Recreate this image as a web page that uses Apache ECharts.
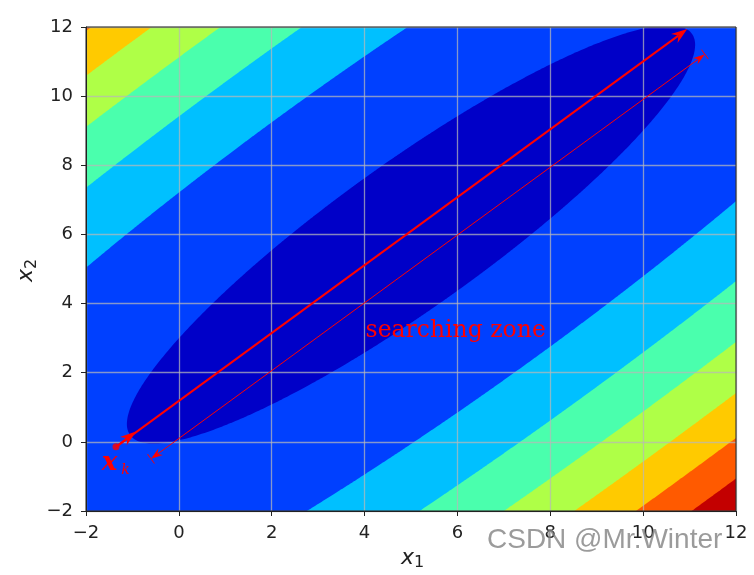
<!DOCTYPE html>
<html>
<head>
<meta charset="utf-8">
<script src="https://cdn.jsdelivr.net/npm/echarts@6/dist/echarts.min.js"></script>
<style>html,body{margin:0;padding:0;background:#fff}#chart{width:754px;height:575px}</style>
</head>
<body>
<div id="chart"></div>
<script>
// ---- axes ----
const xRange = [-2, 12];
const yRange = [-2, 12];
const tickStep = 2;

// ---- quadratic objective: q(x) = (x-centre)^T [[a,b],[b,c]] (x-centre) ----
const centre = [5, 6];
const quadCoef = [1.0, -0.9165, 1.023];          // a, b, c
// contour boundaries (values of q) read from the band edges
const levels = [6.7, 37.6, 68.2, 98.8, 129.4, 160.0, 190.6];
// filled band colours, lowest band first (jet)
const bandColors = ['#0000c8', '#0040ff', '#00c0ff', '#4affad', '#afff47', '#ffca00', '#ff5a00', '#c30000'];

// ---- annotations ----
const xk = [-1.354, -0.145];
const stepArrow = [-1.354, -0.145, -0.923, 0.300];     // small arrow from x_k
const searchArrow = [-1.354, -0.145, 10.95, 11.94];    // long search direction
const zoneSpan = [-0.60, -0.49, 11.33, 11.21];         // |<->| searching zone
const zoneLabelPos = [4.0, 3.0];
const zoneLabelText = 'searching zone';
const xkLabelPos = [-1.64, -0.83];

const chart = echarts.init(document.getElementById('chart'), null, {renderer: 'canvas'});

function renderContour(params, api) {
  const p0 = api.coord([xRange[0], yRange[0]]);
  const p1 = api.coord([xRange[1], yRange[1]]);
  const box = {x: p0[0], y: p1[1], width: p1[0] - p0[0], height: p0[1] - p1[1]};
  const a = quadCoef[0], b = quadCoef[1], c = quadCoef[2];
  const children = [{type: 'rect', shape: box, style: {fill: bandColors[bandColors.length - 1]}}];
  const N = 1440;
  for (let k = levels.length - 1; k >= 0; k--) {
    const pts = [];
    for (let i = 0; i < N; i++) {
      const t = 2 * Math.PI * i / N;
      const ux = Math.cos(t), uy = Math.sin(t);
      const q = a * ux * ux + 2 * b * ux * uy + c * uy * uy;
      const r = Math.sqrt(levels[k] / q);
      pts.push(api.coord([centre[0] + r * ux, centre[1] + r * uy]));
    }
    children.push({type: 'polygon', shape: {points: pts}, style: {fill: bandColors[k]}});
  }
  return {type: 'group', children: children, clipPath: {type: 'rect', shape: box}};
}

function headPts(tip, dir, len, half, notch) {
  const bx = tip[0] - dir[0] * len, by = tip[1] - dir[1] * len;
  const nx = -dir[1], ny = dir[0];
  return [
    [tip[0], tip[1]],
    [bx + nx * half, by + ny * half],
    [tip[0] - dir[0] * (len - notch), tip[1] - dir[1] * (len - notch)],
    [bx - nx * half, by - ny * half]
  ];
}

function renderArrow(params, api) {
  const s = api.coord([api.value(0), api.value(1)]);
  const e = api.coord([api.value(2), api.value(3)]);
  const kind = api.value(4);
  const dx = e[0] - s[0], dy = e[1] - s[1];
  const L = Math.sqrt(dx * dx + dy * dy);
  const u = [dx / L, dy / L];
  const red = '#ff0000';
  const ch = [];
  if (kind === 0 || kind === 1) {
    const len = 16, half = 5.5, notch = 5;
    const stop = [e[0] - u[0] * (len - notch), e[1] - u[1] * (len - notch)];
    ch.push({type: 'line', shape: {x1: s[0], y1: s[1], x2: stop[0], y2: stop[1]}, style: {stroke: red, lineWidth: 2}});
    ch.push({type: 'polygon', shape: {points: headPts(e, u, len, half, notch)}, style: {fill: red}});
  } else {
    const len = 12, half = 4, notch = 4;
    const back = [-u[0], -u[1]];
    ch.push({type: 'line', shape: {x1: s[0] + u[0] * 6, y1: s[1] + u[1] * 6, x2: e[0] - u[0] * 6, y2: e[1] - u[1] * 6}, style: {stroke: red, lineWidth: 1}});
    ch.push({type: 'polygon', shape: {points: headPts(e, u, len, half, notch)}, style: {fill: red}});
    ch.push({type: 'polygon', shape: {points: headPts(s, back, len, half, notch)}, style: {fill: red}});
    const n = [-u[1], u[0]], bh = 5.8;
    ch.push({type: 'line', shape: {x1: e[0] + n[0] * bh, y1: e[1] + n[1] * bh, x2: e[0] - n[0] * bh, y2: e[1] - n[1] * bh}, style: {stroke: red, lineWidth: 1}});
    ch.push({type: 'line', shape: {x1: s[0] + n[0] * bh, y1: s[1] + n[1] * bh, x2: s[0] - n[0] * bh, y2: s[1] - n[1] * bh}, style: {stroke: red, lineWidth: 1}});
  }
  return {type: 'group', children: ch};
}

function renderTexts(params, api) {
  const kind = api.value(2);
  const p = api.coord([api.value(0), api.value(1)]);
  if (kind === 0) {
    return {type: 'text', x: p[0] + 1, y: p[1] + 5,
      style: {text: zoneLabelText, fill: '#ff0000', font: '23.5px "DejaVu Serif"', align: 'left', verticalAlign: 'bottom'}};
  }
  return {type: 'group', children: [
    {type: 'text', x: p[0] - 1, y: p[1] + 5.5,
      style: {text: 'x', fill: '#ff0000', font: 'italic bold 26px "DejaVu Serif"', align: 'left', verticalAlign: 'bottom'}},
    {type: 'text', x: p[0] + 18.5, y: p[1] + 6.5,
      style: {text: 'k', fill: '#ff0000', font: 'italic 14px "DejaVu Serif"', align: 'left', verticalAlign: 'bottom'}}
  ]};
}

const axisText = {color: '#222', fontFamily: 'DejaVu Sans', fontSize: 18};

function makeAxis(range) {
  return {
    type: 'value', min: range[0], max: range[1], interval: tickStep, z: 5,
    axisLine: {show: true, onZero: false, lineStyle: {color: '#222', width: 1}},
    axisTick: {show: true, inside: false, length: 5, lineStyle: {color: '#222', width: 1}},
    axisLabel: Object.assign({margin: 13, formatter: v => (v < 0 ? '\u2212' + (-v) : String(v))}, axisText),
    splitLine: {show: true, lineStyle: {color: 'rgba(185,185,185,0.72)', width: 1.3}}
  };
}

const labFont = 'italic 22px "DejaVu Sans"';
const subFont = '16px "DejaVu Sans"';

chart.setOption({
  animation: false,
  backgroundColor: '#ffffff',
  grid: {left: 86, right: 18, top: 27, bottom: 64, show: true, borderColor: '#222', borderWidth: 1, backgroundColor: 'transparent', z: 6},
  xAxis: makeAxis(xRange),
  yAxis: makeAxis(yRange),
  series: [
    {type: 'custom', z: 1, renderItem: renderContour, data: [centre], encode: {x: 0, y: 1}, silent: true},
    {type: 'custom', z: 8, renderItem: renderArrow, silent: true, encode: {x: [0, 2], y: [1, 3]},
      data: [searchArrow.concat([0]), stepArrow.concat([1]), zoneSpan.concat([2])]},
    {type: 'scatter', z: 9, data: [xk], symbol: 'circle', symbolSize: 7, itemStyle: {color: '#ff0000'}, silent: true},
    {type: 'custom', z: 9, renderItem: renderTexts, silent: true, encode: {x: 0, y: 1},
      data: [zoneLabelPos.concat([0]), xkLabelPos.concat([1])]}
  ],
  graphic: [
    // x-axis title  x_1
    {type: 'text', x: 401, y: 569, z: 50, style: {text: 'x', font: labFont, fill: '#222', align: 'left', verticalAlign: 'bottom'}},
    {type: 'text', x: 414, y: 571, z: 50, style: {text: '1', font: subFont, fill: '#222', align: 'left', verticalAlign: 'bottom'}},
    // y-axis title  x_2 (rotated)
    {type: 'group', x: 33, y: 282, rotation: Math.PI / 2, z: 50, children: [
      {type: 'text', x: 0, y: 4.5, style: {text: 'x', font: labFont, fill: '#222', align: 'left', verticalAlign: 'bottom'}},
      {type: 'text', x: 13, y: 6.5, style: {text: '2', font: subFont, fill: '#222', align: 'left', verticalAlign: 'bottom'}}
    ]},
    {type: 'text', left: 487, top: 526, z: 100,
      style: {text: 'CSDN @Mr.Winter', fill: 'rgba(130,130,130,0.8)', font: '28px "Liberation Sans"'}}
  ]
});
</script>
</body>
</html>
